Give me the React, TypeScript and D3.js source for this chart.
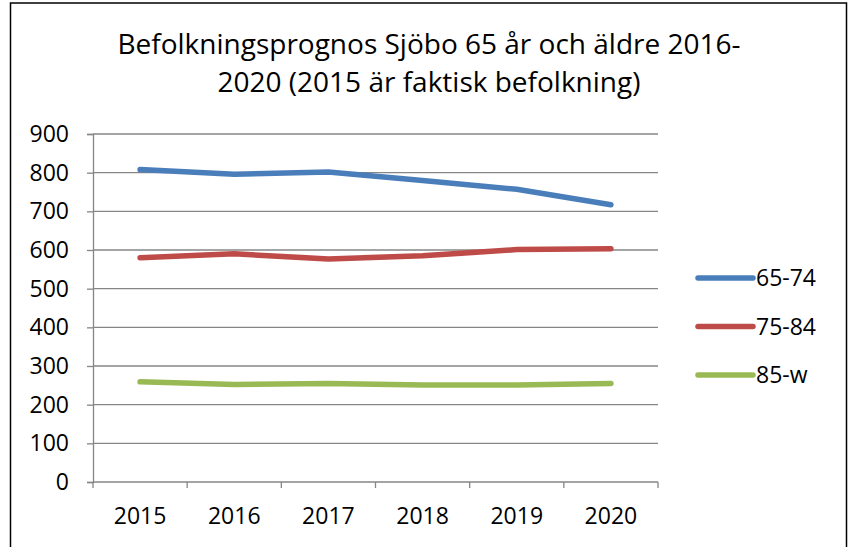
import React, { useEffect, useRef } from "react";
import * as d3 from "d3";

// data
const years = ["2015", "2016", "2017", "2018", "2019", "2020"];
const age6574 = [808, 796, 802, 780, 757, 717];
const age7584 = [580, 590, 577, 585, 601, 603];
const age85w = [259, 252, 255, 251, 251, 255];
const seriesNames = ["65-74", "75-84", "85-w"];
const seriesColors = ["#4a7ebb", "#be4b48", "#98b954"];
const yTicks = [0, 100, 200, 300, 400, 500, 600, 700, 800, 900];
const titleLines = [
  "Befolkningsprognos Sjöbo 65 år och äldre 2016-",
  "2020 (2015 är faktisk befolkning)",
];

const FONT = "'Open Sans', 'Liberation Sans', sans-serif";
const LABEL_SIZE = 23;

export default function App() {
  const svgRef = useRef<SVGSVGElement>(null);

  useEffect(() => {
    const svg = d3.select(svgRef.current);
    svg.selectAll("*").remove();

    const W = 855;
    const H = 547;
    const plot = { left: 93, right: 658, top: 134, bottom: 482 };

    svg.append("rect").attr("width", W).attr("height", H).attr("fill", "#fff");

    // chart frame
    svg
      .append("rect")
      .attr("x", 10.5)
      .attr("y", 3)
      .attr("width", 836)
      .attr("height", 560)
      .attr("fill", "none")
      .attr("stroke", "#000")
      .attr("stroke-width", 1.5);

    // title
    svg
      .append("text")
      .attr("text-anchor", "middle")
      .attr("font-family", FONT)
      .attr("font-size", 28)
      .attr("fill", "#000")
      .selectAll("tspan")
      .data(titleLines)
      .join("tspan")
      .attr("x", 429)
      .attr("y", (d, i) => 54 + i * 38)
      .text(d => d);

    const x = d3.scaleBand().domain(years).range([plot.left, plot.right]);
    const y = d3.scaleLinear().domain([0, 900]).range([plot.bottom, plot.top]);

    // gridlines
    svg
      .append("g")
      .selectAll("line")
      .data(yTicks.filter(t => t > 0))
      .join("line")
      .attr("x1", plot.left)
      .attr("x2", plot.right)
      .attr("y1", d => y(d))
      .attr("y2", d => y(d))
      .attr("stroke", "#868686")
      .attr("stroke-width", 1.3);

    // y axis
    const yAxis = svg
      .append("g")
      .attr("transform", `translate(${plot.left},0)`)
      .call(d3.axisLeft(y).tickValues(yTicks).tickSize(6).tickPadding(18));
    yAxis.select(".domain").attr("stroke", "#868686").attr("stroke-width", 1.3);
    yAxis.selectAll(".tick line").attr("stroke", "#868686").attr("stroke-width", 1.3);
    yAxis
      .selectAll(".tick text")
      .attr("font-family", FONT)
      .attr("font-size", LABEL_SIZE)
      .attr("fill", "#000");

    // x axis (ticks between categories)
    const xAxis = svg.append("g").attr("transform", `translate(0,${plot.bottom})`);
    xAxis
      .append("line")
      .attr("x1", plot.left)
      .attr("x2", plot.right)
      .attr("stroke", "#868686")
      .attr("stroke-width", 1.3);
    const bounds = years.map(d => x(d) as number).concat([plot.right]);
    xAxis
      .selectAll("line.tk")
      .data(bounds)
      .join("line")
      .attr("class", "tk")
      .attr("x1", d => d)
      .attr("x2", d => d)
      .attr("y1", 0)
      .attr("y2", 6)
      .attr("stroke", "#868686")
      .attr("stroke-width", 1.3);
    xAxis
      .selectAll("text")
      .data(years)
      .join("text")
      .attr("x", d => (x(d) as number) + x.bandwidth() / 2)
      .attr("y", 42)
      .attr("text-anchor", "middle")
      .attr("font-family", FONT)
      .attr("font-size", LABEL_SIZE)
      .attr("fill", "#000")
      .text(d => d);

    // lines
    const allSeries = [age6574, age7584, age85w];
    const line = d3
      .line<number>()
      .x((d, i) => (x(years[i]) as number) + x.bandwidth() / 2)
      .y(d => y(d));
    allSeries.forEach((s, i) => {
      svg
        .append("path")
        .datum(s)
        .attr("fill", "none")
        .attr("stroke", seriesColors[i])
        .attr("stroke-width", 5.5)
        .attr("stroke-linecap", "round")
        .attr("stroke-linejoin", "round")
        .attr("d", line);
    });

    // legend
    const legend = svg
      .append("g")
      .selectAll("g")
      .data(seriesNames)
      .join("g")
      .attr("transform", (d, i) => `translate(698,${278 + i * 48.5})`);
    legend
      .append("line")
      .attr("x1", 0)
      .attr("x2", 55)
      .attr("stroke", (d, i) => seriesColors[i])
      .attr("stroke-width", 5.5)
      .attr("stroke-linecap", "round");
    legend
      .append("text")
      .attr("x", 58)
      .attr("dy", "0.35em")
      .attr("font-family", FONT)
      .attr("font-size", LABEL_SIZE)
      .attr("fill", "#000")
      .text(d => d);
  }, []);

  return (
    <svg
      ref={svgRef}
      width={855}
      height={547}
      style={{ position: "absolute", left: 0, top: 0, display: "block" }}
    />
  );
}
